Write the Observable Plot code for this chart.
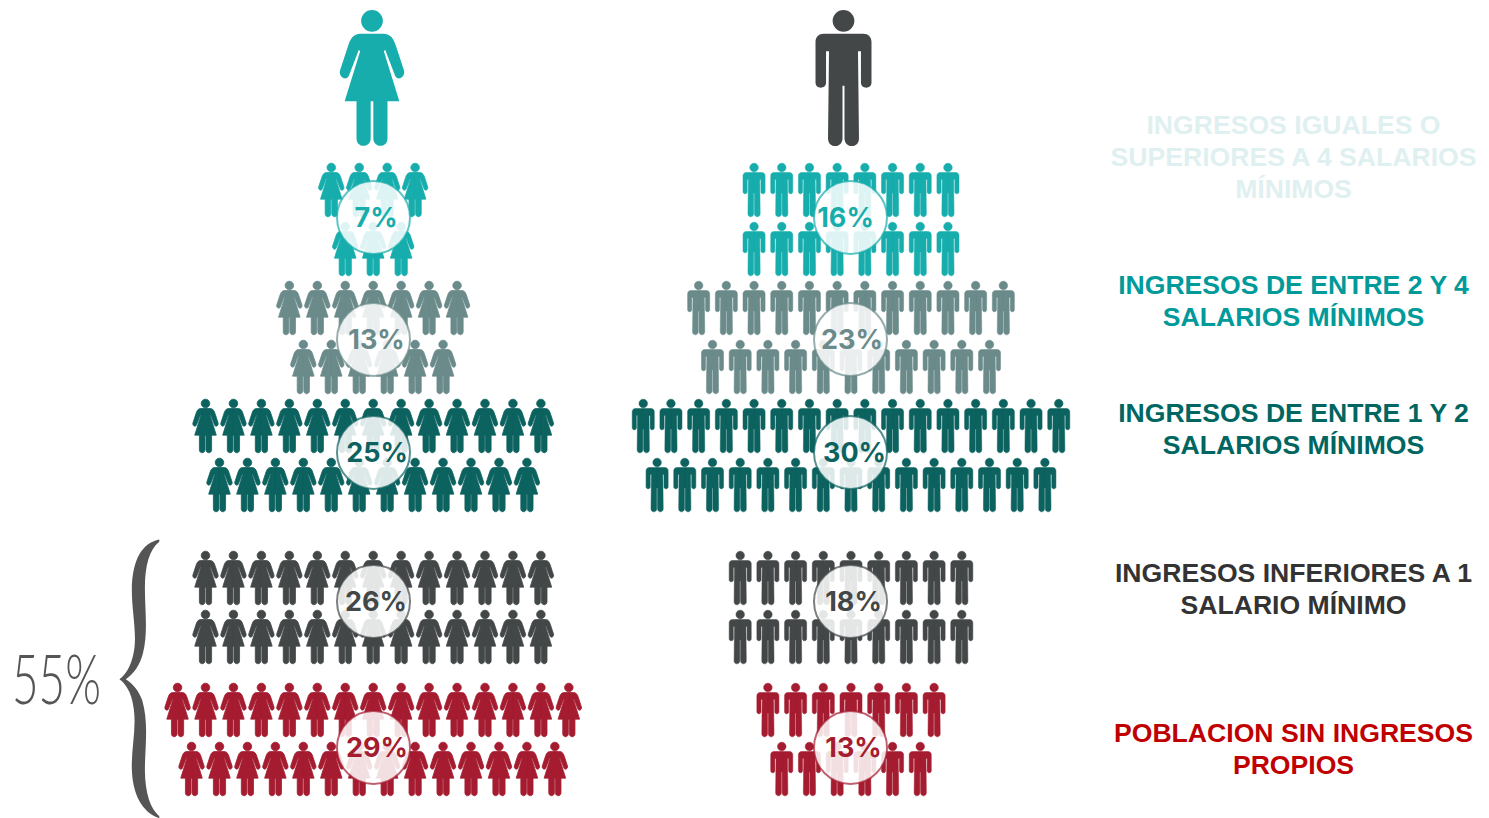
<!DOCTYPE html>
<html><head><meta charset="utf-8">
<style>html,body{margin:0;padding:0;background:#fff}svg{display:block}</style>
<script src="https://cdn.jsdelivr.net/npm/d3@7"></script>
<script src="https://cdn.jsdelivr.net/npm/@observablehq/plot@0.6"></script>
</head><body><div id="chart"></div>
<script>
// --- data ---
const categories = ["≥4", "2-4", "1-2", "<1", "none"];
const womenPct = [7, 13, 25, 26, 29];
const menPct = [16, 23, 30, 18, 13];
const womenRows = [[4, 3], [7, 6], [13, 12], [13, 13], [15, 14]];
const menRows = [[8, 8], [12, 11], [16, 15], [9, 9], [7, 6]];
const labels = [
  "INGRESOS IGUALES O\nSUPERIORES A 4 SALARIOS\nMÍNIMOS",
  "INGRESOS DE ENTRE 2 Y 4\nSALARIOS MÍNIMOS",
  "INGRESOS DE ENTRE 1 Y 2\nSALARIOS MÍNIMOS",
  "INGRESOS INFERIORES A 1\nSALARIO MÍNIMO",
  "POBLACION SIN INGRESOS\nPROPIOS"
];
const bracketLabel = "55%";

// --- styles & layout ---
const figureColors = ["#17adad", "#6b8a8a", "#0c625f", "#434748", "#a51c30"];
const labelColors = ["#dff0f1", "#009a9a", "#006661", "#333333", "#c00000"];
const womenX = 372.7, menX = 850.5, womenStep = 27.95, menStep = 27.7;
const rowY = [[189.5, 248.5], [307.5, 366.5], [425.5, 484.5], [577.5, 636.5], [709.5, 768.5]];
const circleY = [217, 339, 452, 601, 747];
const labelY = [155, 299, 427, 587, 747];
const womenTextShift = [2.5, 3, 3.5, 2.5, 3.5];
const menTextShift = [-5, 1.5, 4, 3, 3];

// --- glyphs (outlines normalised to a half-height) ---
function glyph(cx, cy, half, draw) {
  return {draw(ctx, size) {
    const r = Math.sqrt(size / Math.PI), k = r / half;
    const X = x => (x - cx) * k, Y = y => (y - cy) * k;
    draw({
      M: (x, y) => ctx.moveTo(X(x), Y(y)),
      L: (x, y) => ctx.lineTo(X(x), Y(y)),
      C: (a, b, c, d, e, f) => ctx.bezierCurveTo(X(a), Y(b), X(c), Y(d), X(e), Y(f)),
      Z: () => ctx.closePath(),
      O: (x, y, rad) => { ctx.moveTo(X(x + rad), Y(y)); ctx.arc(X(x), Y(y), rad * k, 0, 2 * Math.PI); ctx.closePath(); }
    });
  }};
}
const woman = glyph(214, 231.5, 206.5, p => {
  p.O(214, 58, 33);
  for (const s of [1, -1]) {
    const x = v => 214 + s * v;
    p.M(x(0), 97); p.L(x(36), 97);
    p.C(x(55), 97, x(66), 112, x(72), 132);
    p.L(x(97), 208);
    p.C(x(103), 228, x(77), 245, x(69), 222);
    p.L(x(40), 146); p.L(x(36), 150);
    p.L(x(83), 302); p.L(x(47), 302);
    p.L(x(47), 415);
    p.C(x(47), 445, x(5), 445, x(4), 415);
    p.L(x(4), 302); p.L(x(0), 302); p.Z();
  }
});
const man = glyph(190, 231.5, 206.5, p => {
  p.O(190, 58, 33);
  for (const s of [1, -1]) {
    const x = v => 190 + s * v;
    p.M(x(0), 97); p.L(x(60), 97);
    p.C(x(75), 97, x(85), 107, x(85), 122);
    p.L(x(85), 245);
    p.C(x(85), 266, x(53), 266, x(53), 245);
    p.L(x(53), 150); p.L(x(44), 150);
    p.L(x(47), 415);
    p.C(x(47), 446, x(4), 446, x(3), 415);
    p.L(x(3), 255); p.L(x(0), 255); p.Z();
  }
});
const brace = glyph(416, 445, 415, p => {
  p.M(476, 30);
  p.C(425, 40, 395, 90, 394, 180);
  p.C(394, 250, 412, 320, 398, 375);
  p.C(390, 410, 375, 435, 357, 447);
  p.C(375, 460, 392, 485, 398, 525);
  p.C(410, 590, 392, 650, 394, 715);
  p.C(396, 790, 425, 845, 476, 862);
  p.L(476, 856);
  p.C(450, 835, 434, 790, 433, 720);
  p.C(433, 650, 445, 580, 425, 510);
  p.C(416, 485, 400, 462, 376, 447);
  p.C(400, 430, 418, 405, 427, 370);
  p.C(443, 310, 433, 240, 433, 175);
  p.C(433, 110, 446, 60, 476, 37);
  p.Z();
});

// --- derived tables ---
function people(center, step, rows, sex) {
  return rows.flatMap((row, g) => row.flatMap((n, r) =>
    d3.range(n).map(i => ({
      category: categories[g], sex,
      x: center + (i - (n - 1) / 2) * step,
      y: rowY[g][r]
    }))));
}
const women = people(womenX, womenStep, womenRows, "women");
const men = people(menX, menStep, menRows, "men");
const badges = categories.flatMap((category, g) => [
  {category, x: 373, y: circleY[g], pct: womenPct[g], shift: womenTextShift[g]},
  {category, x: 850, y: circleY[g], pct: menPct[g], shift: menTextShift[g]}
]);
const side = categories.map((category, g) => ({label: labels[g], y: labelY[g], color: labelColors[g]}));

const chart = Plot.plot({
  width: 1489, height: 818, margin: 0,
  x: {domain: [0, 1489], range: [0, 1489], axis: null},
  y: {domain: [0, 818], range: [0, 818], axis: null},
  color: {domain: categories, range: figureColors},
  style: {background: "#fff"},
  marks: [
    Plot.dot([{x: 371.5, y: 77.5}], {x: "x", y: "y", r: 68, symbol: woman, fill: figureColors[0], stroke: "none"}),
    Plot.dot([{x: 843, y: 77.5}], {x: "x", y: "y", r: 68, symbol: man, fill: figureColors[3], stroke: "none"}),
    Plot.dot(women, {x: "x", y: "y", r: 26.8, symbol: woman, fill: "category", stroke: "category", strokeWidth: 0.8}),
    Plot.dot(men, {x: "x", y: "y", r: 26.8, symbol: man, fill: "category", stroke: "category", strokeWidth: 0.5}),
    Plot.dot(badges, {x: "x", y: "y", r: 36.5, fill: "#fff", fillOpacity: 0.86, stroke: "category", strokeWidth: 2, strokeOpacity: 0.7}),
    Plot.text(badges, {x: d => d.x + d.shift, y: d => d.y + 0.5, text: d => d.pct + "%", fill: "category", fontSize: 27, fontWeight: 700, fontFamily: "Inter", textAnchor: "middle"}),
    Plot.dot([{x: 138.7, y: 678}], {x: "x", y: "y", r: 139, symbol: brace, fill: "#555", stroke: "none"}),
    Plot.text([bracketLabel], {x: [56], y: [682], text: d => d, fontFamily: "Lato", fontSize: 68, fontWeight: 300, fill: "#555", textAnchor: "middle"}),
    Plot.text(side, {x: () => 1293, y: "y", text: "label", fill: "color", fontFamily: "'Liberation Sans'", fontWeight: 700, fontSize: 26.6, lineHeight: 32 / 26.6, lineAnchor: "middle", textAnchor: "middle"})
  ]
});
d3.select(chart).selectAll("text").filter(function () { return this.textContent === bracketLabel; })
  .attr("textLength", 89).attr("lengthAdjust", "spacingAndGlyphs");
document.getElementById("chart").append(chart);
</script></body></html>
